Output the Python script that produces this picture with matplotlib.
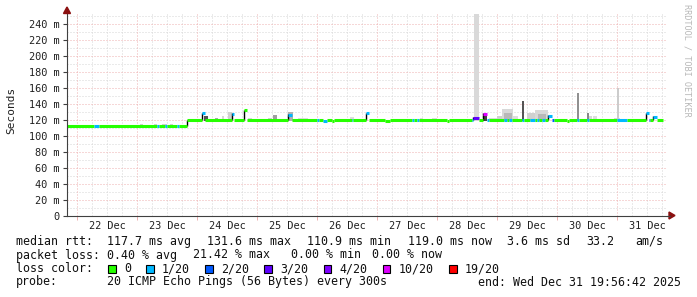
import numpy as np
import matplotlib
matplotlib.use('Agg')
import matplotlib.pyplot as plt
from matplotlib.patches import Rectangle, Polygon

plt.rcParams['font.family'] = ['DejaVu Sans Mono', 'DejaVu Sans']

# time in hours from 22 Dec 00:00, graph ends Wed Dec 31 19:56:42
t_end = 9 * 24 + 19 + 56 / 60 + 42 / 3600
t_start = t_end - 240
data_end = 234.5
day_labels = ['22 Dec', '23 Dec', '24 Dec', '25 Dec', '26 Dec',
              '27 Dec', '28 Dec', '29 Dec', '30 Dec', '31 Dec']

# median rtt baseline (ms), one step up on 23 Dec
base_t = [t_start, 43.9]
base_ms = [111.9, 119.3]

loss_names = ['0', '1/20', '2/20', '3/20', '4/20', '10/20', '19/20']
loss_colors = ['#26ff00', '#00b8ff', '#0059ff', '#5e00ff', '#7e00ff', '#dd00ff', '#ff0000']

# median line events: start (h), length (h), median (ms), loss index
ln_t = [6.9, 32.1, 35.3, 40.1, 49.8, 62.1, 66.7, 84.5, 96.1, 98.5, 102.1, 110.1,
        115.7, 123.0, 134.1, 136.1, 148.1, 158.1, 158.5, 162.5, 164.1, 170.9,
        172.9, 178.1, 181.3, 184.1, 186.1, 188.5, 190.1, 196.1, 200.1, 204.1,
        216.1, 227.7, 228.9, 230.5]
ln_w = [2.0, 0.8, 0.8, 0.8, 1.2, 0.8, 1.2, 1.6, 0.8, 1.6, 0.8, 0.4,
        1.2, 2.0, 0.8, 0.8, 0.8, 0.4, 2.4, 1.6, 0.8, 1.2,
        1.2, 0.8, 2.0, 0.8, 1.2, 1.6, 0.8, 0.8, 0.8, 0.8,
        4.0, 1.2, 0.4, 1.6]
ln_ms = [111.9, 111.9, 111.9, 111.9, 128, 127, 131.6, 126, 119.3, 118, 118.3, 119.3,
         128, 117.8, 119.3, 119.3, 118.7, 119.3, 122, 127, 119.3, 119.3,
         119.3, 119.3, 119.3, 119.3, 119.3, 125, 119.3, 118, 119.3, 119.3,
         119.3, 128, 119.3, 123]
ln_loss = [1, 1, 1, 1, 1, 1, 0, 1, 1, 1, 0, 1,
           1, 0, 1, 1, 0, 1, 3, 5, 1, 1,
           1, 1, 1, 1, 1, 1, 2, 0, 1, 1,
           1, 1, 2, 1]

# smoke: start (h), length (h), top (ms), grey shade
sm_t = [25.0, 30.9, 34.1, 37.0, 50.6, 55.0, 58.1, 60.5, 68.5, 76.5, 78.5, 84.5,
        88.5, 109.0, 137.3, 142.1, 158.9, 162.5, 164.9, 168.1, 170.1, 170.9,
        174.5, 178.1, 180.1, 183.3, 184.5, 200.1, 204.1, 204.9, 206.5, 209.7,
        214.9, 216.1, 224.5]
sm_w = [1.2, 1.2, 2.0, 1.2, 1.6, 1.2, 0.8, 1.6, 1.6, 1.6, 1.6, 2.0,
        4.0, 1.6, 1.2, 2.0, 2.0, 1.6, 3.2, 2.0, 4.4, 3.0,
        2.0, 0.8, 3.2, 5.2, 3.0, 0.8, 0.8, 1.2, 1.6, 0.8,
        2.4, 0.8, 1.6]
sm_top = [115, 115, 115, 115, 125, 122, 125, 130, 122, 122, 126, 130,
          122, 123, 122, 122, 300, 127, 122, 124, 134, 128,
          125, 144, 128, 132, 127, 154, 129, 124, 125, 121,
          122, 160, 121]
sm_grey = ['#d0d0d0', '#d0d0d0', '#d0d0d0', '#d0d0d0', '#555555', '#aaaaaa',
           '#d8d8d8', '#d0d0d0', '#d8d8d8', '#d0d0d0', '#a0a0a0', '#b0b0b0',
           '#dddddd', '#dddddd', '#dddddd', '#dddddd', '#d9d9d9', '#444444',
           '#dddddd', '#d0d0d0', '#d8d8d8', '#b8b8b8', '#dddddd', '#555555',
           '#d0d0d0', '#d8d8d8', '#b8b8b8', '#909090', '#888888', '#d8d8d8',
           '#dddddd', '#dddddd', '#d8d8d8', '#cccccc', '#dddddd']


def base_at(t):
    return base_ms[np.searchsorted(base_t, t, side='right') - 1]


W, H = 697, 297
fig = plt.figure(figsize=(W / 100, H / 100), dpi=100)
fig.patch.set_facecolor('white')


def fx(x):
    return x / W


def fy(y):
    return 1 - y / H


ax = fig.add_axes([fx(67), fy(215.5), fx(600), 201.2 / H])
ax.set_xlim(t_start, t_end)
ax.set_ylim(0, 252)
for s in ['top', 'right']:
    ax.spines[s].set_visible(False)
for s in ['left', 'bottom']:
    ax.spines[s].set_color('#404040')
    ax.spines[s].set_linewidth(0.8)
    ax.spines[s].set_zorder(5)

# grid: grey every 6 h / 10 ms, red every day / 20 ms
px = 0.72
minor_c = '#d6d6d6'
major_c = '#eeb0b0'
for h in np.arange(-6, t_end, 6):
    if h > t_start and h % 24 != 0:
        ax.axvline(h, color=minor_c, lw=px, ls=(0, (1, 2)), zorder=0)
for v in range(10, 251, 20):
    ax.axhline(v, color=minor_c, lw=px, ls=(0, (1, 2)), zorder=0)
for v in range(20, 241, 20):
    ax.axhline(v, color=major_c, lw=px, ls=(0, (1, 2)), zorder=0.5)
for d in range(10):
    ax.axvline(24 * d, color=major_c, lw=px, ls=(0, (1, 2)), zorder=0.5)

# smoke
sm_base = [base_at(t) - 1.5 for t in sm_t]
ax.bar(sm_t, np.array(sm_top) - np.array(sm_base), width=sm_w, bottom=sm_base,
       align='edge', color=sm_grey, linewidth=0, zorder=1)

# median line: baseline pieces between events, events coloured by loss
segs = []
cur = t_start


def add_base(a, b):
    cuts = [a] + [t for t in base_t[1:] if a < t < b] + [b]
    for i in range(len(cuts) - 1):
        segs.append((cuts[i], cuts[i + 1], base_at(cuts[i]), loss_colors[0]))


for i in np.argsort(ln_t):
    if ln_t[i] > cur:
        add_base(cur, ln_t[i])
    segs.append((ln_t[i], ln_t[i] + ln_w[i], ln_ms[i], loss_colors[ln_loss[i]]))
    cur = ln_t[i] + ln_w[i]
add_base(cur, data_end)

lc = ax.hlines([s[2] for s in segs], [s[0] for s in segs], [s[1] for s in segs],
               colors=[s[3] for s in segs], linewidth=2.2, zorder=3)
lc.set_capstyle('butt')

# dark rising edges
rise = [i for i in range(len(ln_t)) if ln_ms[i] > base_at(ln_t[i]) + 2]
rise_t = [base_t[1]] + [ln_t[i] for i in rise]
rise_lo = [base_ms[0]] + [base_at(ln_t[i]) for i in rise]
rise_hi = [base_ms[1]] + [ln_ms[i] + 1 for i in rise]
ax.vlines(rise_t, rise_lo, rise_hi, colors='black', linewidth=1.0, zorder=2.5)

# ticks
yt = list(range(0, 241, 20))
ax.set_yticks(yt)
ax.set_yticklabels(['0' if v == 0 else '%d m' % v for v in yt])
ax.tick_params(axis='y', length=3, width=0.8, color='#404040', pad=2.6,
               labelsize=7.4, labelcolor='#202020')
ax.set_xticks([24 * d + 12 for d in range(10)])
ax.set_xticklabels(day_labels)
ax.tick_params(axis='x', length=0, pad=4.2, labelsize=7.4, labelcolor='#202020')
ax.set_xticks([24 * d for d in range(10)], minor=True)
ax.tick_params(axis='x', which='minor', length=3, width=0.7, color=major_c)

# axis extension and arrows
fig.add_artist(plt.Line2D([fx(667), fx(670)], [fy(215.5), fy(215.5)], color='#404040', lw=0.8))
fig.add_artist(Polygon([[fx(669), fy(212)], [fx(669), fy(219)], [fx(675), fy(215.5)]],
                       closed=True, color='#8b1010', transform=fig.transFigure))
fig.add_artist(Polygon([[fx(63.5), fy(13.5)], [fx(70.5), fy(13.5)], [fx(67), fy(7)]],
                       closed=True, color='#8b1010', transform=fig.transFigure))

fig.text(fx(11), fy(110), 'Seconds', rotation=90, ha='center', va='center',
         fontsize=8, color='#202020')
fig.text(fx(687.5), fy(4), 'RRDTOOL / TOBI OETIKER', rotation=270, ha='center',
         va='top', fontsize=6.1, color='#b8b8b8')

# legend text
fs = 8.4
col = '#101010'
line1 = [(16, 'median rtt:'), (107.3, '117.7 ms avg'), (207.3, '131.6 ms max'),
         (306.7, '110.9 ms min'), (407.7, '119.0 ms now'), (506.7, '3.6 ms sd'),
         (586.7, '33.2'), (635, 'am/s')]
line2 = [(16, 'packet loss:'), (107.3, '0.40 % avg'), (193.3, '21.42 % max'),
         (291, '0.00 % min'), (371.7, '0.00 % now')]
line4 = [(16, 'probe:'), (107.3, '20 ICMP Echo Pings (56 Bytes) every 300s'),
         (478.3, 'end: Wed Dec 31 19:56:42 2025')]
for items, yb in [(line1, 245), (line2, 258.5), (line4, 285.5)]:
    for x, s in items:
        fig.text(fx(x), fy(yb), s, ha='left', va='baseline', fontsize=fs, color=col)

fig.text(fx(16), fy(272), 'loss color:', ha='left', va='baseline', fontsize=fs, color=col)
x = 108
for name, c in zip(loss_names, loss_colors):
    fig.add_artist(Rectangle((fx(x), fy(273)), fx(7.5), 8 / H, facecolor=c,
                             edgecolor='black', linewidth=0.8, transform=fig.transFigure))
    fig.text(fx(x + 16), fy(272), name, ha='left', va='baseline', fontsize=fs, color=col)
    x = x + 16 + len(name) * 7.05 + 15

fig.savefig('out.png', dpi=100, facecolor='white')
